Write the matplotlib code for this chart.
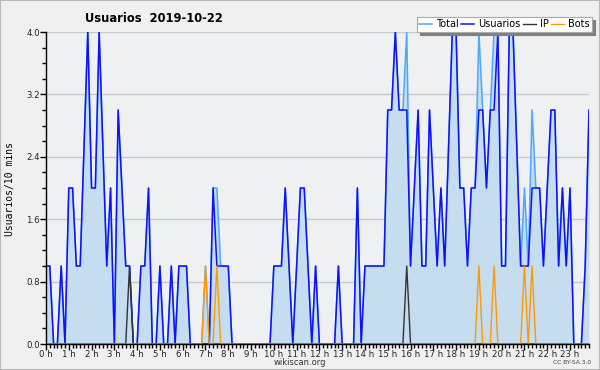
import numpy as np
import matplotlib
matplotlib.use("Agg")
import matplotlib.pyplot as plt
from matplotlib.patches import Rectangle

# values every 10 minutes, one row = 2 hours
usuarios = [
    1, 1, 0, 0, 1, 0, 2, 2, 1, 1, 2.5, 4,
    2, 2, 4, 2.5, 1, 2, 0, 3, 2, 1, 1, 0,
    0, 1, 1, 2, 0, 0, 1, 0, 0, 1, 0, 1,
    1, 1, 0, 0, 0, 0, 0, 0, 2, 1, 1, 1,
    1, 0, 0, 0, 0, 0, 0, 0, 0, 0, 0, 0,
    1, 1, 1, 2, 1, 0, 1, 2, 2, 1, 0, 1,
    0, 0, 0, 0, 0, 1, 0, 0, 0, 0, 2, 0,
    1, 1, 1, 1, 1, 1, 3, 3, 4, 3, 3, 3,
    1, 2, 3, 1, 1, 3, 2, 1, 2, 1, 2.5, 4,
    4, 2, 2, 1, 2, 2, 3, 3, 2, 3, 3, 4,
    1, 1, 4, 4, 2.5, 1, 1, 1, 2, 2, 2, 1,
    2, 3, 3, 1, 2, 1, 2, 0, 0, 0, 1, 3,
]
total = [
    1, 1, 0, 0, 1, 0, 2, 2, 1, 1, 2.5, 4,
    2, 2, 4, 2.5, 1, 2, 0, 3, 2, 1, 1, 0,
    0, 1, 1, 2, 0, 0, 1, 0, 0, 1, 0, 1,
    1, 1, 0, 0, 0, 0, 1, 0, 2, 2, 1, 1,
    1, 0, 0, 0, 0, 0, 0, 0, 0, 0, 0, 0,
    1, 1, 1, 2, 1, 0, 1, 2, 2, 1, 0, 1,
    0, 0, 0, 0, 0, 1, 0, 0, 0, 0, 2, 0,
    1, 1, 1, 1, 1, 1, 3, 3, 4, 3, 3, 4,
    1, 2, 3, 1, 1, 3, 2, 1, 2, 1, 2.5, 4,
    4, 2, 2, 1, 2, 2, 4, 3, 2, 3, 4, 4,
    1, 1, 4, 4, 2.5, 1, 2, 1, 3, 2, 2, 1,
    2, 3, 3, 1, 2, 1, 2, 0, 0, 0, 1, 3,
]
ip = [0] * 144
ip[22] = 1
ip[95] = 1
bots = [0] * 144
for k in (42, 45, 114, 118, 126, 128):
    bots[k] = 1

hour_labels = ["%d h" % h for h in range(24)]
yticks = [0.0, 0.8, 1.6, 2.4, 3.2, 4.0]

x = np.arange(len(usuarios))

fig = plt.figure(figsize=(6, 3.7), dpi=100, facecolor="#f0f0f0")
fig.patches.append(Rectangle((0, 0), 1, 1, transform=fig.transFigure,
                             fill=False, edgecolor="#b8b8b8", lw=1.5))
ax = fig.add_axes([46/600, 1-344/370, 543/600, 312/370])
ax.set_facecolor("#eef0f2")

ax.fill_between(x, total, color="#c6ddf0", lw=0, zorder=1)
ax.plot(x, total, color="#4aa8ff", lw=1.1, label="Total", zorder=3)
ax.plot(x, usuarios, color="#1010ff", lw=1.1, label="Usuarios", zorder=4)
ax.plot(x, ip, color="#333333", lw=1.0, label="IP", zorder=5)
ax.plot(x, bots, color="#ff9900", lw=1.0, label="Bots", zorder=6)

ax.set_xlim(0, 143)
ax.set_ylim(0, 4)
ax.set_yticks(yticks)
ax.set_yticklabels(["%.1f" % v for v in yticks])
ax.set_yticks(np.arange(0, 4.01, 0.2), minor=True)
ax.set_xticks(np.arange(0, 144, 6))
ax.set_xticklabels(hour_labels)
ax.set_xticks(np.arange(0, 144, 1), minor=True)
ax.tick_params(axis="both", which="major", length=4, width=1, labelsize=6.2,
               pad=0.5, colors="black", labelcolor="#222222")
ax.tick_params(axis="both", which="minor", length=3, width=1)
ax.grid(axis="y", which="major", color="#c8c8c8", lw=1)
ax.set_axisbelow(True)
for s in ("top", "right"):
    ax.spines[s].set_visible(False)
for s in ("left", "bottom"):
    ax.spines[s].set_linewidth(1)
    ax.spines[s].set_zorder(7)

fig.text(85/600, 1-18/370, "Usuarios  2019-10-22", fontsize=8.3,
         fontweight="bold", va="center", ha="left")
fig.text(10/600, 0.49, "Usuarios/10 mins", rotation=90, fontsize=7,
         family="DejaVu Sans Mono", va="center", ha="center")
fig.text(300/600, 1-362.5/370, "wikiscan.org", fontsize=6, ha="center",
         va="center", color="#333333")
fig.text(591/600, 1-362.5/370, "CC BY-SA 3.0", fontsize=4.3, ha="right",
         va="center", color="#444444")

leg = ax.legend(loc="upper right", bbox_to_anchor=(592/600, 1-17/370),
                bbox_transform=fig.transFigure, ncol=4, fontsize=7,
                handlelength=1.3, handletextpad=0.4, columnspacing=0.3,
                borderpad=0.25, borderaxespad=0, fancybox=False,
                framealpha=1, edgecolor="#aaaaaa", facecolor="white",
                shadow={"color": "#808080", "alpha": 1})
leg.set_zorder(10)
leg.get_frame().set_linewidth(0.8)

fig.savefig("out.png", dpi=100, facecolor=fig.get_facecolor())
